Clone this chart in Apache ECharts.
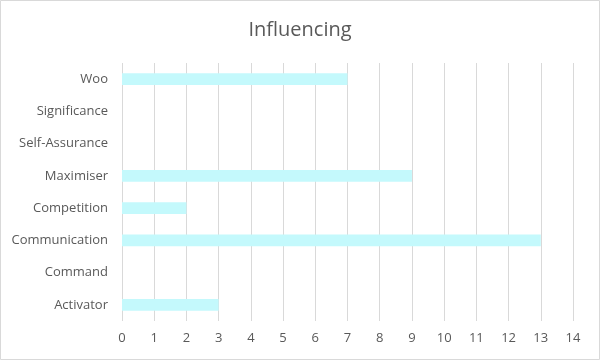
<!DOCTYPE html>
<html>
<head>
<meta charset="utf-8">
<script src="https://cdn.jsdelivr.net/npm/echarts@6/dist/echarts.min.js"></script>
<style>html,body{margin:0;padding:0;background:#fff}#c{width:600px;height:360px}</style>
</head>
<body>
<div id="c"></div>
<script>
const categories = ["Activator", "Command", "Communication", "Competition", "Maximiser", "Self-Assurance", "Significance", "Woo"];
const values = [3, 0, 13, 2, 9, 0, 0, 7];
const xTicks = {min: 0, max: 14, interval: 1};

const chart = echarts.init(document.getElementById('c'), null, {renderer: 'canvas'});
const font = "'Open Sans', 'Noto Sans', sans-serif";
chart.setOption({
  animation: false,
  backgroundColor: '#fff',
  title: {
    text: 'Influencing', left: 'center', top: 15,
    textStyle: {fontFamily: font, fontSize: 20, fontWeight: 'normal', color: '#595959'}
  },
  graphic: [{type: 'rect', shape: {x: 0.5, y: 0.5, width: 599, height: 359}, style: {fill: 'none', stroke: '#d9d9d9', lineWidth: 1}}],
  grid: {left: 122, right: 27, top: 63, bottom: 39, containLabel: false},
  xAxis: {
    type: 'value', min: xTicks.min, max: xTicks.max, interval: xTicks.interval,
    axisLine: {show: false}, axisTick: {show: false},
    splitLine: {lineStyle: {color: '#d9d9d9', width: 1}},
    axisLabel: {color: '#595959', fontFamily: font, fontSize: 13, margin: 11}
  },
  yAxis: {
    type: 'category', data: categories,
    axisLine: {show: false}, axisTick: {show: false},
    axisLabel: {color: '#595959', fontFamily: font, fontSize: 13, margin: 14}
  },
  series: [{
    type: 'bar', data: values, barWidth: '36%',
    itemStyle: {color: '#c4f9fc'}
  }]
});
</script>
</body>
</html>
